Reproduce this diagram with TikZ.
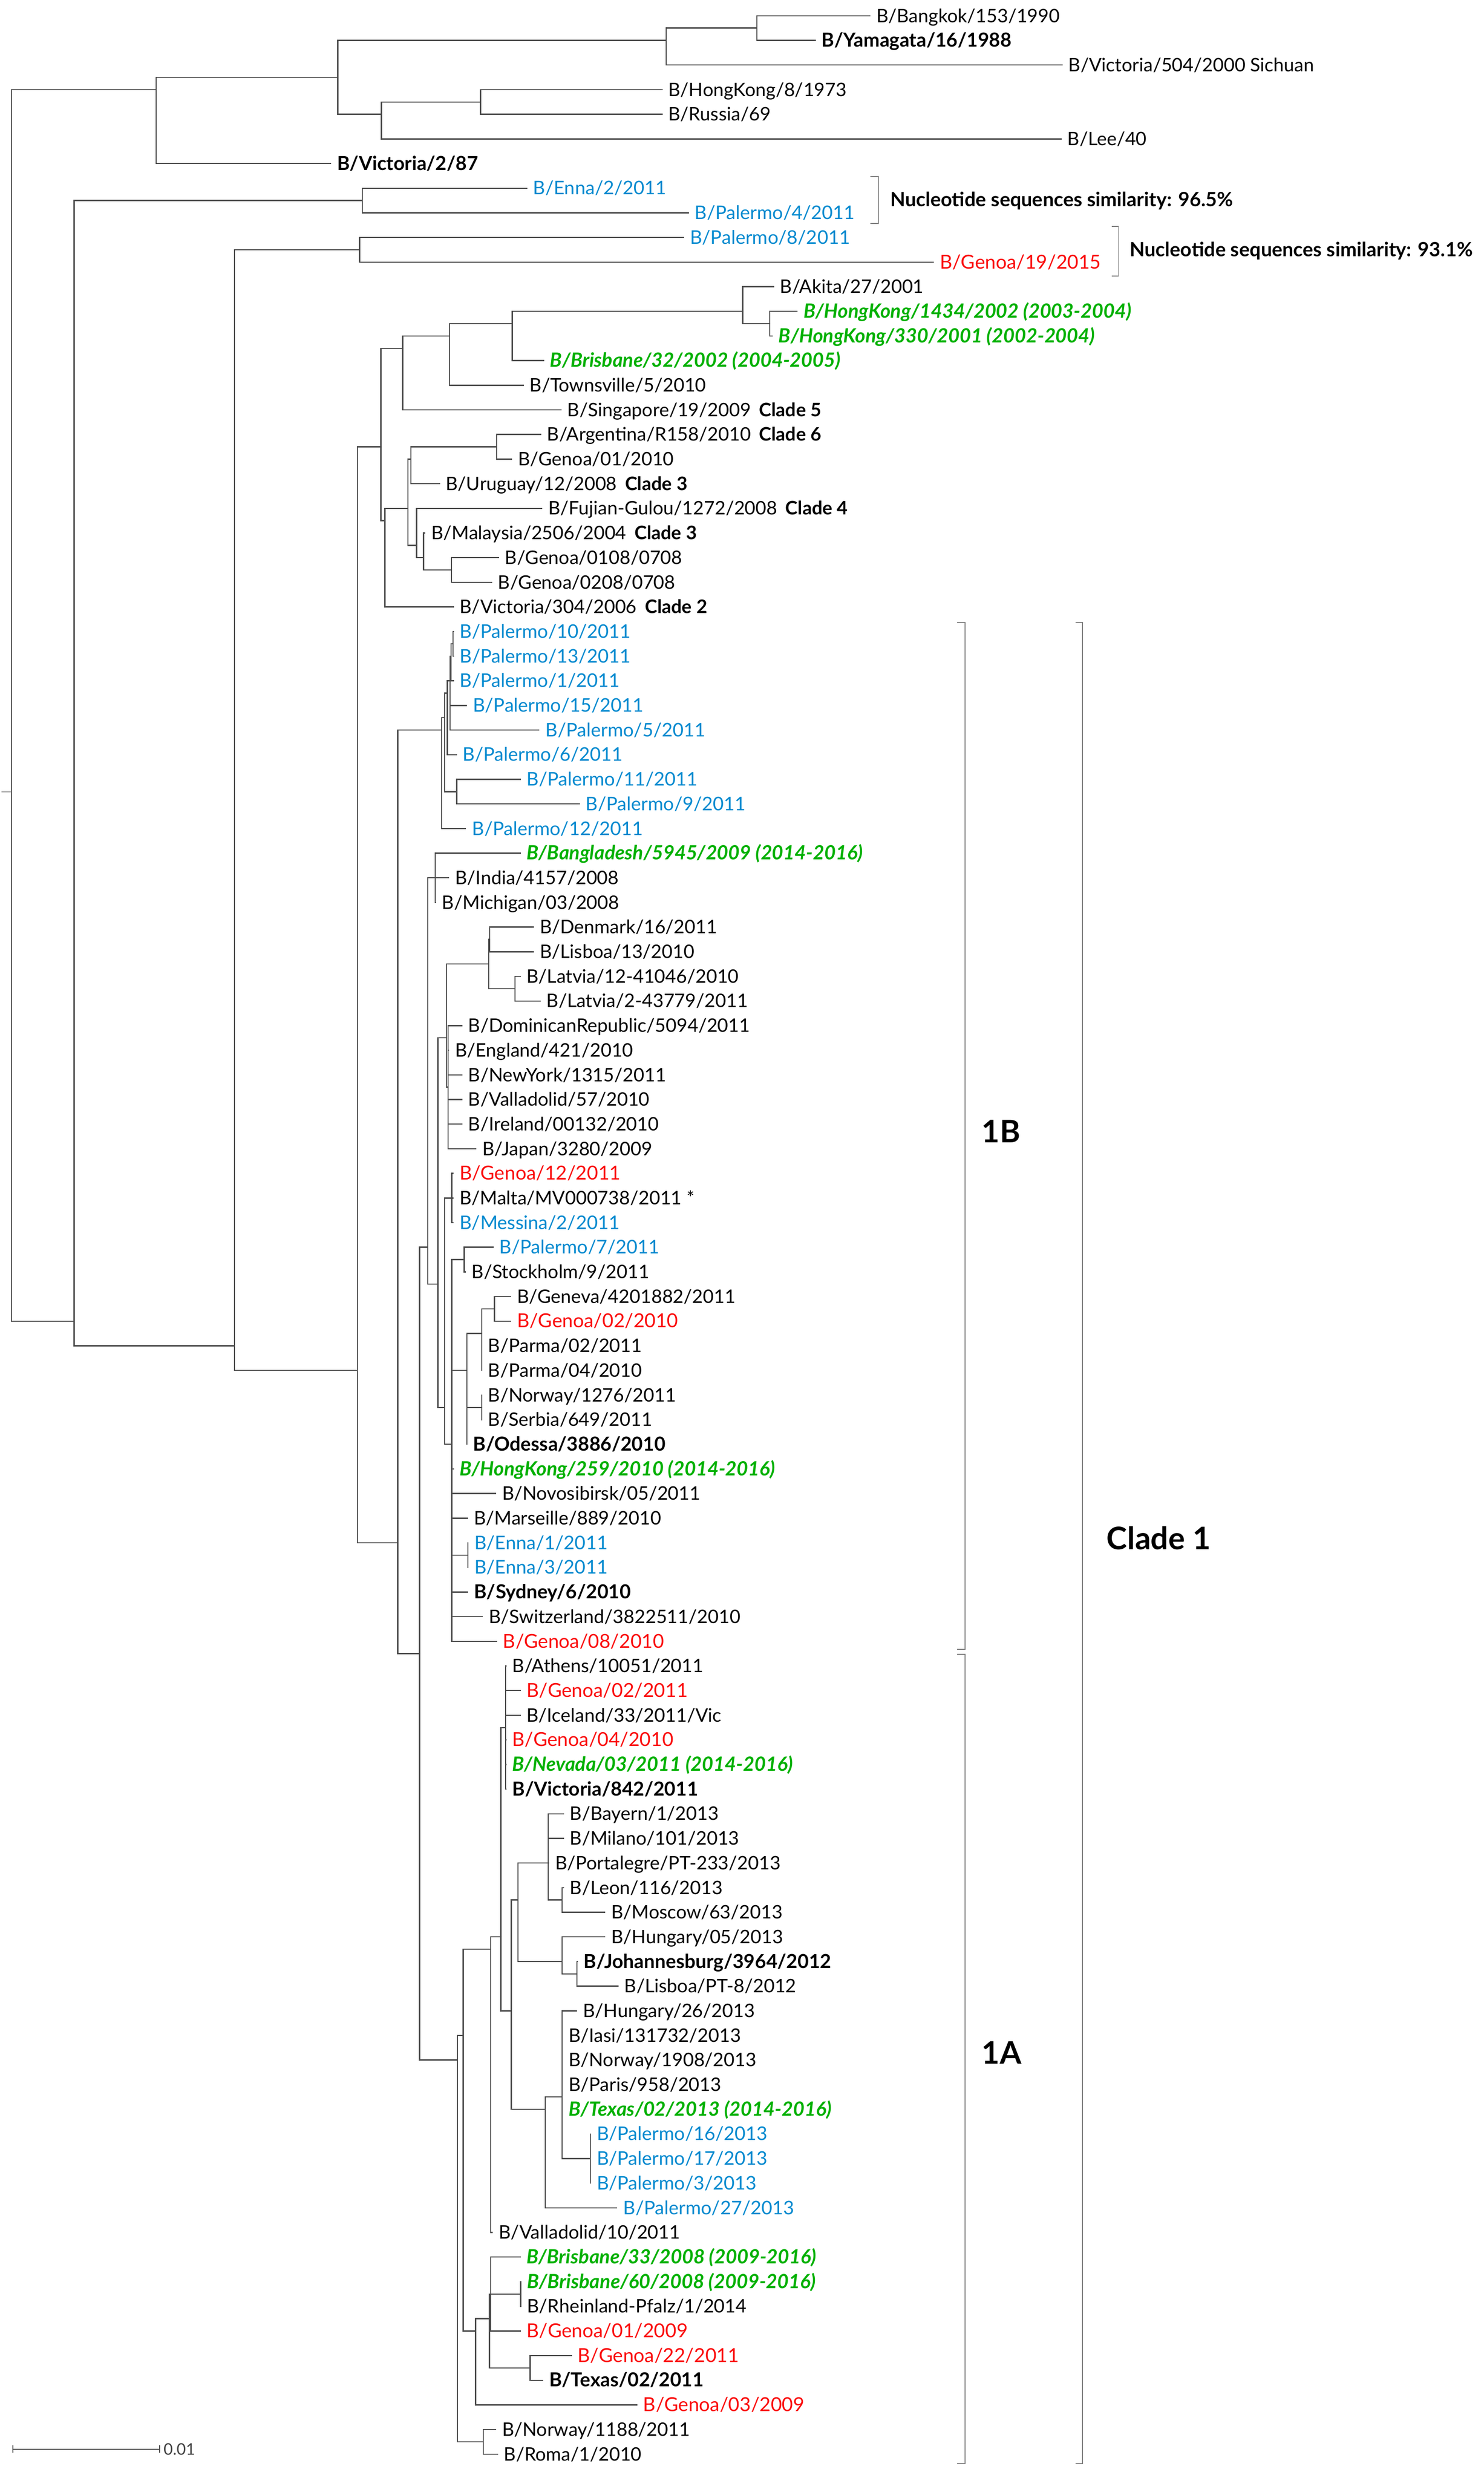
\documentclass[tikz,border=0pt]{standalone}
\usepackage{fontspec}
\setmainfont{Lato}

\definecolor{isoblue}{RGB}{0,137,207}
\definecolor{isored}{RGB}{250,10,10}
\definecolor{vacgreen}{RGB}{0,176,0}
\definecolor{branchgray}{RGB}{75,75,75}

\tikzset{
  branch/.style={draw=branchgray, line width=0.75pt},
  bracket/.style={draw=black!50, line width=0.6pt},
  leaf/.style={anchor=west, inner xsep=1.25mm, inner ysep=0pt, text height=8.2pt, text depth=0pt, font=\fontsize{11.7}{14}\selectfont},
  refstrain/.style={leaf, font=\fontsize{12.1}{14}\selectfont\bfseries},
  sicily/.style={leaf, text=isoblue, font=\fontsize{11.8}{14}\selectfont},
  liguria/.style={leaf, text=isored, font=\fontsize{12.1}{14}\selectfont},
  vaccine/.style={leaf, text=vacgreen, font=\fontsize{12.3}{14}\selectfont\bfseries\itshape},
  note/.style={anchor=west, inner sep=0pt, font=\fontsize{12.3}{14}\selectfont\bfseries},
  cladelab/.style={anchor=west, inner sep=0pt, font=\fontsize{19.5}{22}\selectfont\bfseries}
}
\newcommand{\cl}[1]{\hspace{1.8mm}\textbf{Clade #1}}

\begin{document}
\begin{tikzpicture}[x=0.34787mm, y=-5.4289mm]
\useasboundingbox (0,-0.6408) rectangle (940,99.97);

% Blaetter
\node[leaf] (bangkok) at (551.5,0) {B/Bangkok/153/1990};
\node[refstrain] (yamagata) at (516.8,1) {B/Yamagata/16/1988};
\node[leaf] (vic504) at (673.2,2) {B/Victoria/504/2000 Sichuan};
\node[leaf] (hk8) at (419.7,3) {B/HongKong/8/1973};
\node[leaf] (russia) at (419.7,4) {B/Russia/69};
\node[leaf] (lee) at (672.6,5) {B/Lee/40};
\node[refstrain] (vic287) at (209.8,6) {B/Victoria/2/87};
\node[sicily] (enna2) at (334,7) {B/Enna/2/2011};
\node[sicily] (pal4) at (436.4,8) {B/Palermo/4/2011};
\node[sicily] (pal8) at (433.4,9) {B/Palermo/8/2011};
\node[liguria] (genoa19) at (591.7,10) {B/Genoa/19/2015};
\node[leaf] (akita) at (490.4,11) {B/Akita/27/2001};
\node[vaccine] (hk1434) at (505.4,12) {B/HongKong/1434/2002 (2003-2004)};
\node[vaccine] (hk330) at (489.5,13) {B/HongKong/330/2001 (2002-2004)};
\node[vaccine] (bris32) at (344.7,14) {B/Brisbane/32/2002 (2004-2005)};
\node[leaf] (townsville) at (331.8,15) {B/Townsville/5/2010};
\node[leaf] (singapore) at (355.7,16) {B/Singapore/19/2009\cl{5}};
\node[leaf] (argentina) at (342.8,17) {B/Argentina/R158/2010\cl{6}};
\node[leaf] (genoa0110) at (324.5,18) {B/Genoa/01/2010};
\node[leaf] (uruguay) at (278.7,19) {B/Uruguay/12/2008\cl{3}};
\node[leaf] (fujian) at (343.6,20) {B/Fujian-Gulou/1272/2008\cl{4}};
\node[leaf] (malaysia) at (269.5,21) {B/Malaysia/2506/2004\cl{3}};
\node[leaf] (genoa0108) at (316.1,22) {B/Genoa/0108/0708};
\node[leaf] (genoa0208) at (311.7,23) {B/Genoa/0208/0708};
\node[leaf] (vic304) at (287.5,24) {B/Victoria/304/2006\cl{2}};
\node[sicily] (pal10) at (287.5,25) {B/Palermo/10/2011};
\node[sicily] (pal13) at (287.5,26) {B/Palermo/13/2011};
\node[sicily] (pal1) at (287.5,27) {B/Palermo/1/2011};
\node[sicily] (pal15) at (295.8,28) {B/Palermo/15/2011};
\node[sicily] (pal5) at (341.8,29) {B/Palermo/5/2011};
\node[sicily] (pal6) at (289.4,30) {B/Palermo/6/2011};
\node[sicily] (pal11) at (329.9,31) {B/Palermo/11/2011};
\node[sicily] (pal9) at (367.3,32) {B/Palermo/9/2011};
\node[sicily] (pal12) at (295.3,33) {B/Palermo/12/2011};
\node[vaccine] (bangladesh) at (329.9,34) {B/Bangladesh/5945/2009 (2014-2016)};
\node[leaf] (india) at (284.6,35) {B/India/4157/2008};
\node[leaf] (michigan) at (276.3,36) {B/Michigan/03/2008};
\node[leaf] (denmark) at (338.2,37) {B/Denmark/16/2011};
\node[leaf] (lisboa13) at (338.2,38) {B/Lisboa/13/2010};
\node[leaf] (latvia12) at (329.9,39) {B/Latvia/12-41046/2010};
\node[leaf] (latvia2) at (342.5,40) {B/Latvia/2-43779/2011};
\node[leaf] (domrep) at (292.9,41) {B/DominicanRepublic/5094/2011};
\node[leaf] (england) at (284.5,42) {B/England/421/2010};
\node[leaf] (newyork) at (292.9,43) {B/NewYork/1315/2011};
\node[leaf] (vall57) at (292.9,44) {B/Valladolid/57/2010};
\node[leaf] (ireland) at (292.9,45) {B/Ireland/00132/2010};
\node[leaf] (japan) at (301.9,46) {B/Japan/3280/2009};
\node[liguria] (genoa1211) at (287.4,47) {B/Genoa/12/2011};
\node[leaf] (malta) at (287.4,48) {B/Malta/MV000738/2011 *};
\node[sicily] (messina) at (287.4,49) {B/Messina/2/2011};
\node[sicily] (pal7) at (312.7,50) {B/Palermo/7/2011};
\node[leaf] (stockholm) at (295.1,51) {B/Stockholm/9/2011};
\node[leaf] (geneva) at (323.9,52) {B/Geneva/4201882/2011};
\node[liguria] (genoa0210) at (323.9,53) {B/Genoa/02/2010};
\node[leaf] (parma02) at (305.5,54) {B/Parma/02/2011};
\node[leaf] (parma04) at (305.5,55) {B/Parma/04/2010};
\node[leaf] (norway1276) at (305.5,56) {B/Norway/1276/2011};
\node[leaf] (serbia) at (305.5,57) {B/Serbia/649/2011};
\node[refstrain] (odessa) at (295.9,58) {B/Odessa/3886/2010};
\node[vaccine] (hk259) at (287.5,59) {B/HongKong/259/2010 (2014-2016)};
\node[leaf] (novosibirsk) at (314.4,60) {B/Novosibirsk/05/2011};
\node[leaf] (marseille) at (296.5,61) {B/Marseille/889/2010};
\node[sicily] (enna1) at (296.8,62) {B/Enna/1/2011};
\node[sicily] (enna3) at (296.8,63) {B/Enna/3/2011};
\node[refstrain] (sydney) at (296.5,64) {B/Sydney/6/2010};
\node[leaf] (switzerland) at (306.0,65) {B/Switzerland/3822511/2010};
\node[liguria] (genoa0810) at (314.9,66) {B/Genoa/08/2010};
\node[leaf] (athens) at (320.8,67) {B/Athens/10051/2011};
\node[liguria] (genoa0211) at (329.9,68) {B/Genoa/02/2011};
\node[leaf] (iceland) at (329.9,69) {B/Iceland/33/2011/Vic};
\node[liguria] (genoa0410) at (320.8,70) {B/Genoa/04/2010};
\node[vaccine] (nevada) at (320.8,71) {B/Nevada/03/2011 (2014-2016)};
\node[refstrain] (vic842) at (320.8,72) {B/Victoria/842/2011};
\node[leaf] (bayern) at (357.3,73) {B/Bayern/1/2013};
\node[leaf] (milano) at (357.3,74) {B/Milano/101/2013};
\node[leaf] (portalegre) at (348.0,75) {B/Portalegre/PT-233/2013};
\node[leaf] (leon) at (357.3,76) {B/Leon/116/2013};
\node[leaf] (moscow) at (383.5,77) {B/Moscow/63/2013};
\node[leaf] (hungary05) at (383.5,78) {B/Hungary/05/2013};
\node[refstrain] (johannesburg) at (366.0,79) {B/Johannesburg/3964/2012};
\node[leaf] (lisboapt8) at (391.8,80) {B/Lisboa/PT-8/2012};
\node[leaf] (hungary26) at (365.6,81) {B/Hungary/26/2013};
\node[leaf] (iasi) at (356.5,82) {B/Iasi/131732/2013};
\node[leaf] (norway1908) at (356.5,83) {B/Norway/1908/2013};
\node[leaf] (paris) at (356.5,84) {B/Paris/958/2013};
\node[vaccine] (texas13) at (356.5,85) {B/Texas/02/2013 (2014-2016)};
\node[sicily] (pal16) at (374.3,86) {B/Palermo/16/2013};
\node[sicily] (pal17) at (374.3,87) {B/Palermo/17/2013};
\node[sicily] (pal3) at (374.3,88) {B/Palermo/3/2013};
\node[sicily] (pal27) at (391.1,89) {B/Palermo/27/2013};
\node[leaf] (vall10) at (312.3,90) {B/Valladolid/10/2011};
\node[vaccine] (bris33) at (329.9,91) {B/Brisbane/33/2008 (2009-2016)};
\node[vaccine] (bris60) at (330.2,92) {B/Brisbane/60/2008 (2009-2016)};
\node[leaf] (rheinland) at (330.2,93) {B/Rheinland-Pfalz/1/2014};
\node[liguria] (genoa0109) at (329.9,94) {B/Genoa/01/2009};
\node[liguria] (genoa2211) at (362.3,95) {B/Genoa/22/2011};
\node[refstrain] (texas11) at (344.2,96) {B/Texas/02/2011};
\node[liguria] (genoa0309) at (403.8,97) {B/Genoa/03/2009};
\node[leaf] (norway1188) at (314.4,98) {B/Norway/1188/2011};
\node[leaf] (roma) at (315.5,99) {B/Roma/1/2010};

% innere Knoten
\coordinate (root) at (7.3,31.5);
\coordinate (rootend) at (0.8,31.5);
\coordinate (nA) at (98.9,3);
\coordinate (nB) at (214,2.5);
\coordinate (nC) at (422,1);
\coordinate (nD) at (479.6,0.5);
\coordinate (nE) at (241.6,4);
\coordinate (nF) at (304.5,3.5);
\coordinate (nH) at (47,53);
\coordinate (nG) at (229.6,7.5);
\coordinate (nI) at (148.5,54);
\coordinate (nJ) at (227.8,9.5);
\coordinate (nK) at (226.4,55);
\coordinate (up) at (241.3,17.5);
\coordinate (sing) at (255.2,13.5);
\coordinate (town) at (284.9,13);
\coordinate (bris) at (324.5,12.5);
\coordinate (akit) at (470.6,12);
\coordinate (hkp) at (487.7,12.5);
\coordinate (low) at (243.8,20.5);
\coordinate (cl) at (258.5,20);
\coordinate (agu) at (260.3,18);
\coordinate (ag) at (314.6,17.5);
\coordinate (fmg) at (264,21.5);
\coordinate (mg) at (268.4,22);
\coordinate (gg8) at (286,22.5);
\coordinate (c1) at (252.0,62);
\coordinate (p0) at (279.8,29);
\coordinate (p1) at (281.7,28.5);
\coordinate (p2) at (283.4,27.5);
\coordinate (pq) at (285.1,27);
\coordinate (pt) at (285.8,26);
\coordinate (pu) at (287.0,25.5);
\coordinate (p3) at (289.4,31.5);
\coordinate (r0) at (265.8,66.5);
\coordinate (s1) at (271.0,50);
\coordinate (bim) at (275.8,35);
\coordinate (s1b) at (277.5,51.5);
\coordinate (w0) at (282.9,41.5);
\coordinate (dlll) at (309.6,38.5);
\coordinate (dl) at (310.3,37.5);
\coordinate (ll) at (326.3,39.5);
\coordinate (w2) at (283.9,43.5);
\coordinate (e0) at (281.7,56.5);
\coordinate (gmm) at (286.3,48);
\coordinate (e2) at (286.3,58);
\coordinate (ps) at (294.1,50.5);
\coordinate (o7) at (295.8,55);
\coordinate (ggpp) at (305.3,53.5);
\coordinate (gg) at (313.2,52.5);
\coordinate (ns) at (305.3,56.5);
\coordinate (ee) at (296.5,62.5);
\coordinate (s2) at (289.9,83);
\coordinate (s2a) at (293.4,82);
\coordinate (v0) at (310.8,78.5);
\coordinate (v1) at (317.3,78);
\coordinate (va) at (320.4,69.5);
\coordinate (v2) at (323.9,81);
\coordinate (v3) at (328.2,76.5);
\coordinate (v6) at (347.3,75);
\coordinate (lm) at (356.1,76.5);
\coordinate (v7) at (356.1,79);
\coordinate (jl) at (365.6,79.5);
\coordinate (v4) at (345.4,85);
\coordinate (v5) at (356.1,84.5);
\coordinate (ppp) at (374.0,87);
\coordinate (b7) at (301.3,94);
\coordinate (b6) at (310.1,93.5);
\coordinate (b4) at (310.8,92.5);
\coordinate (br) at (329.9,92.5);
\coordinate (gt) at (335.8,95.5);
\coordinate (nr) at (306.1,98.5);

% Aeste oben
\draw[branch, draw=black!30] (rootend) -- (root);
\draw[branch] (root) |- (nA) (root) |- (nH);
\draw[branch] (nA) |- (nB) (nA) |- (vic287.west);
\draw[branch] (nB) |- (nC) (nB) |- (nE);
\draw[branch] (nC) |- (nD) (nC) |- (vic504.west);
\draw[branch] (nD) |- (bangkok.west) (nD) |- (yamagata.west);
\draw[branch] (nE) |- (nF) (nE) |- (lee.west);
\draw[branch] (nF) |- (hk8.west) (nF) |- (russia.west);
\draw[branch] (nH) |- (nG) (nH) |- (nI);
\draw[branch] (nG) |- (enna2.west) (nG) |- (pal4.west);
\draw[branch] (nI) |- (nJ) (nI) |- (nK);
\draw[branch] (nJ) |- (pal8.west) (nJ) |- (genoa19.west);
\draw[branch] (nK) |- (up) (nK) |- (c1);

% Aeste Clade 2-6
\draw[branch] (up) |- (sing) (up) |- (low);
\draw[branch] (sing) |- (town) (sing) |- (singapore.west);
\draw[branch] (town) |- (bris) (town) |- (townsville.west);
\draw[branch] (bris) |- (akit) (bris) |- (bris32.west);
\draw[branch] (akit) |- (akita.west) (akit) |- (hkp);
\draw[branch] (hkp) |- (hk1434.west) (hkp) |- (hk330.west);
\draw[branch] (low) |- (cl) (low) |- (vic304.west);
\draw[branch] (cl) |- (agu) (cl) |- (fmg);
\draw[branch] (agu) |- (ag) (agu) |- (uruguay.west);
\draw[branch] (ag) |- (argentina.west) (ag) |- (genoa0110.west);
\draw[branch] (fmg) |- (fujian.west) (fmg) |- (mg);
\draw[branch] (mg) |- (malaysia.west) (mg) |- (gg8);
\draw[branch] (gg8) |- (genoa0108.west) (gg8) |- (genoa0208.west);

% Aeste Clade 1B
\draw[branch] (c1) |- (p0) (c1) |- (r0);
\draw[branch] (p0) |- (p1) (p0) |- (pal12.west);
\draw[branch] (p1) |- (p2) (p1) |- (p3);
\draw[branch] (p2) |- (pq) (p2) |- (pal6.west);
\draw[branch] (pq) |- (pt) (pq) |- (pal15.west) (pq) |- (pal5.west);
\draw[branch] (pt) |- (pu) (pt) |- (pal1.west);
\draw[branch] (pu) |- (pal10.west) (pu) |- (pal13.west);
\draw[branch] (p3) |- (pal11.west) (p3) |- (pal9.west);
\draw[branch] (r0) |- (s1) (r0) |- (s2);
\draw[branch] (s1) |- (bim) (s1) |- (s1b);
\draw[branch] (bim) |- (bangladesh.west) (bim) |- (india.west) (bim) |- (michigan.west);
\draw[branch] (s1b) |- (w0) (s1b) |- (e0);
\draw[branch] (w0) |- (dlll) (w0) |- (w2);
\draw[branch] (dlll) |- (dl) (dlll) |- (ll);
\draw[branch] (dl) |- (denmark.west) (dl) |- (lisboa13.west);
\draw[branch] (ll) |- (latvia12.west) (ll) |- (latvia2.west);
\draw[branch] (w2) |- (domrep.west) (w2) |- (england.west) (w2) |- (newyork.west)
  (w2) |- (vall57.west) (w2) |- (ireland.west) (w2) |- (japan.west);
\draw[branch] (e0) |- (gmm) (e0) |- (e2);
\draw[branch] (gmm) |- (genoa1211.west) (gmm) |- (malta.west) (gmm) |- (messina.west);
\draw[branch] (e2) |- (ps) (e2) |- (o7) (e2) |- (hk259.west) (e2) |- (novosibirsk.west)
  (e2) |- (marseille.west) (e2) |- (ee) (e2) |- (sydney.west) (e2) |- (switzerland.west)
  (e2) |- (genoa0810.west);
\draw[branch] (ps) |- (pal7.west) (ps) |- (stockholm.west);
\draw[branch] (o7) |- (ggpp) (o7) |- (ns) (o7) |- (odessa.west);
\draw[branch] (ggpp) |- (gg) (ggpp) |- (parma02.west) (ggpp) |- (parma04.west);
\draw[branch] (gg) |- (geneva.west) (gg) |- (genoa0210.west);
\draw[branch] (ns) |- (norway1276.west) (ns) |- (serbia.west);
\draw[branch] (ee) |- (enna1.west) (ee) |- (enna3.west);

% Aeste Clade 1A
\draw[branch] (s2) |- (s2a) (s2) |- (nr);
\draw[branch] (s2a) |- (v0) (s2a) |- (b7);
\draw[branch] (v0) |- (v1) (v0) |- (vall10.west);
\draw[branch] (v1) |- (va) (v1) |- (v2);
\draw[branch] (va) |- (athens.west) (va) |- (genoa0211.west) (va) |- (iceland.west)
  (va) |- (genoa0410.west) (va) |- (nevada.west) (va) |- (vic842.west);
\draw[branch] (v2) |- (v3) (v2) |- (v4);
\draw[branch] (v3) |- (v6) (v3) |- (v7);
\draw[branch] (v6) |- (bayern.west) (v6) |- (milano.west) (v6) |- (portalegre.west) (v6) |- (lm);
\draw[branch] (lm) |- (leon.west) (lm) |- (moscow.west);
\draw[branch] (v7) |- (hungary05.west) (v7) |- (jl);
\draw[branch] (jl) |- (johannesburg.west) (jl) |- (lisboapt8.west);
\draw[branch] (v4) |- (v5) (v4) |- (pal27.west);
\draw[branch] (v5) |- (hungary26.west) (v5) |- (iasi.west) (v5) |- (norway1908.west)
  (v5) |- (paris.west) (v5) |- (texas13.west) (v5) |- (ppp);
\draw[branch] (ppp) |- (pal16.west) (ppp) |- (pal17.west) (ppp) |- (pal3.west);
\draw[branch] (b7) |- (b6) (b7) |- (genoa0309.west);
\draw[branch] (b6) |- (b4) (b6) |- (gt);
\draw[branch] (b4) |- (bris33.west) (b4) |- (br) (b4) |- (genoa0109.west);
\draw[branch] (br) |- (bris60.west) (br) |- (rheinland.west);
\draw[branch] (gt) |- (genoa2211.west) (gt) |- (texas11.west);
\draw[branch] (nr) |- (norway1188.west) (nr) |- (roma.west);

% Klammern und Beschriftung
\draw[bracket] (551.5,6.53) -- (556.4,6.53) -- (556.4,8.43) -- (551.5,8.43);
\node[note] (sim965) at (563.8,7.52) {Nucleotide sequences similarity: 96.5\%};
\draw[bracket] (704.4,8.56) -- (708.6,8.56) -- (708.6,10.57) -- (704.4,10.57);
\node[note] (sim931) at (715.6,9.55) {Nucleotide sequences similarity: 93.1\%};
\draw[bracket] (606.3,24.63) -- (611.5,24.63) -- (611.5,66.33) -- (606.3,66.33);
\draw[bracket] (606.3,66.53) -- (611.5,66.53) -- (611.5,99.38) -- (606.3,99.38);
\draw[bracket] (681.5,24.63) -- (685.9,24.63) -- (685.9,99.38) -- (681.5,99.38);
\node[cladelab] (lab1b) at (621.8,45.3) {1B};
\node[cladelab] (lab1a) at (621.8,82.7) {1A};
\node[cladelab] (labc1) at (701.0,61.8) {Clade 1};

% Massstab
\draw[branch] (8.2,98.8) -- (101.2,98.8);
\draw[branch] (8.2,98.65) -- (8.2,98.95) (101.2,98.65) -- (101.2,98.95);
\node[anchor=west, inner sep=0pt, text=black!75, font=\fontsize{10}{12}\selectfont] (scale) at (103.5,98.8) {0.01};
\end{tikzpicture}
\end{document}
